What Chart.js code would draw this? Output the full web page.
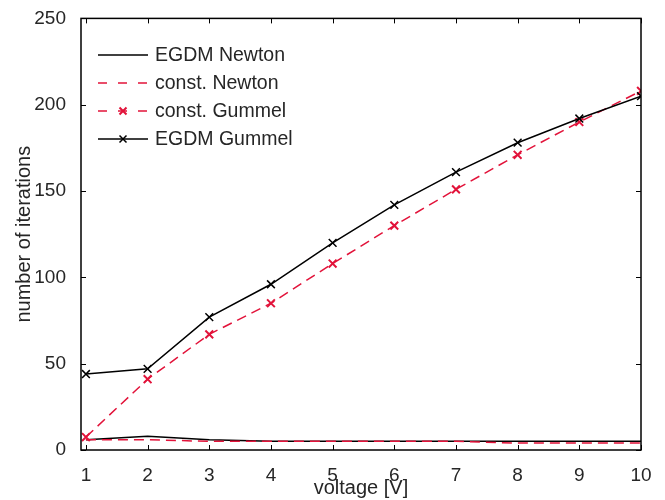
<!DOCTYPE html>
<html>
<head>
<meta charset="utf-8">
<script src="https://cdn.jsdelivr.net/npm/chart.js@4/dist/chart.umd.min.js"></script>
<style>
  html, body { margin: 0; padding: 0; background: #fff; }
  #wrap { width: 665px; height: 500px; }
</style>
</head>
<body>
<div id="wrap"><canvas id="c" width="665" height="500"></canvas></div>
<script>
// ---- data ----
const voltage = [1, 2, 3, 4, 5, 6, 7, 8, 9, 10];
const egdmNewton  = [6, 8, 6, 5, 5, 5, 5, 5, 5, 5];
const constNewton = [6, 6, 5, 5, 5, 5, 5, 4, 4, 4];
const constGummel = [7.5, 41, 67, 85, 108, 130, 151, 171, 190, 208];
const egdmGummel  = [44, 47, 77, 96, 120, 142, 161, 178, 192, 205];
const seriesNames = ['EGDM Newton', 'const. Newton', 'const. Gummel', 'EGDM Gummel'];
const xTicks = [1, 2, 3, 4, 5, 6, 7, 8, 9, 10];
const yTicks = [0, 50, 100, 150, 200, 250];

const RED = '#e2133a';
const BLACK = '#000000';
const FONT = '"Liberation Sans", Arial, Helvetica, sans-serif';

function pts(ys) { return voltage.map((v, i) => ({ x: v, y: ys[i] })); }

const datasets = [
  { label: seriesNames[0], data: pts(egdmNewton), borderColor: BLACK, borderWidth: 1.5,
    pointRadius: 0, order: 3 },
  { label: seriesNames[1], data: pts(constNewton), borderColor: RED, borderWidth: 1.5,
    borderDash: [10, 6], pointRadius: 0, order: 2 },
  { label: seriesNames[2], data: pts(constGummel), borderColor: RED, borderWidth: 1.5,
    borderDash: [10, 6], pointStyle: 'crossRot', pointRadius: 5.5, pointBorderWidth: 2,
    pointBorderColor: RED, order: 1 },
  { label: seriesNames[3], data: pts(egdmGummel), borderColor: BLACK, borderWidth: 1.5,
    pointStyle: 'crossRot', pointRadius: 5.5, pointBorderWidth: 1.5,
    pointBorderColor: BLACK, order: 0 }
];
datasets.forEach(d => { d.fill = false; d.tension = 0; d.backgroundColor = d.borderColor; });

// frame + inward ticks on all four sides
const framePlugin = {
  id: 'frame',
  afterDatasetsDraw(chart) {
    const { ctx, chartArea: a, scales: { x, y } } = chart;
    ctx.save();
    ctx.strokeStyle = '#000';
    ctx.lineWidth = 1;
    const tl = 5;
    ctx.beginPath();
    xTicks.forEach(v => {
      const px = Math.round(x.getPixelForValue(v)) + 0.5;
      ctx.moveTo(px, a.bottom); ctx.lineTo(px, a.bottom - tl);
      ctx.moveTo(px, a.top); ctx.lineTo(px, a.top + tl);
    });
    yTicks.forEach(v => {
      const py = Math.round(y.getPixelForValue(v)) + 0.5;
      ctx.moveTo(a.left, py); ctx.lineTo(a.left + tl, py);
      ctx.moveTo(a.right, py); ctx.lineTo(a.right - tl, py);
    });
    ctx.stroke();
    ctx.lineWidth = 1.5;
    ctx.strokeRect(a.left, a.top, a.right - a.left, a.bottom - a.top);
    ctx.restore();
  }
};

// legend drawn inside the axes, top-left
const legendPlugin = {
  id: 'innerLegend',
  afterDraw(chart) {
    const { ctx } = chart;
    const rows = [55, 83, 111, 139];
    const x0 = 98, x1 = 148, tx = 155;
    ctx.save();
    chart.data.datasets.forEach((ds, i) => {
      const yy = rows[i];
      ctx.strokeStyle = ds.borderColor;
      ctx.lineWidth = ds.borderWidth;
      ctx.setLineDash(ds.borderDash ? [9, 11] : []);
      ctx.beginPath();
      ctx.moveTo(x0, yy); ctx.lineTo(x1, yy);
      ctx.stroke();
      ctx.setLineDash([]);
      if (ds.pointStyle === 'crossRot') {
        const cx = (x0 + x1) / 2, r = 3.5;
        ctx.lineWidth = ds.pointBorderWidth;
        ctx.beginPath();
        ctx.moveTo(cx - r, yy - r); ctx.lineTo(cx + r, yy + r);
        ctx.moveTo(cx - r, yy + r); ctx.lineTo(cx + r, yy - r);
        ctx.stroke();
      }
      ctx.fillStyle = '#262626';
      ctx.font = '19.5px ' + FONT;
      ctx.textAlign = 'left';
      ctx.textBaseline = 'middle';
      ctx.fillText(ds.label, tx, yy + 1);
    });
    ctx.restore();
  }
};

new Chart(document.getElementById('c'), {
  type: 'line',
  data: { datasets },
  plugins: [framePlugin, legendPlugin],
  options: {
    responsive: false,
    animation: false,
    devicePixelRatio: 1,
    layout: { padding: { left: 0, right: 24, top: 17, bottom: 0 } },
    plugins: { legend: { display: false }, tooltip: { enabled: false } },
    scales: {
      x: {
        type: 'linear',
        min: 0.92, max: 10,
        afterFit(s) { s.height = 50; },
        afterBuildTicks(s) { s.ticks = xTicks.map(v => ({ value: v })); },
        grid: { display: false },
        border: { display: false },
        ticks: { color: '#262626', font: { family: FONT, size: 19 }, padding: 6, maxRotation: 0, autoSkip: false },
        title: { display: true, text: 'voltage [V]', color: '#262626',
                 font: { family: FONT, size: 20 }, padding: { top: 0, bottom: 0 } }
      },
      y: {
        type: 'linear',
        min: 0, max: 250,
        afterFit(s) { s.width = 81; },
        afterBuildTicks(s) { s.ticks = yTicks.map(v => ({ value: v })); },
        grid: { display: false },
        border: { display: false },
        ticks: { color: '#262626', font: { family: FONT, size: 19 }, padding: 7 },
        title: { display: true, text: 'number of iterations', color: '#262626',
                 font: { family: FONT, size: 20 }, padding: { top: 12, bottom: 0 } }
      }
    }
  }
});
</script>
</body>
</html>
